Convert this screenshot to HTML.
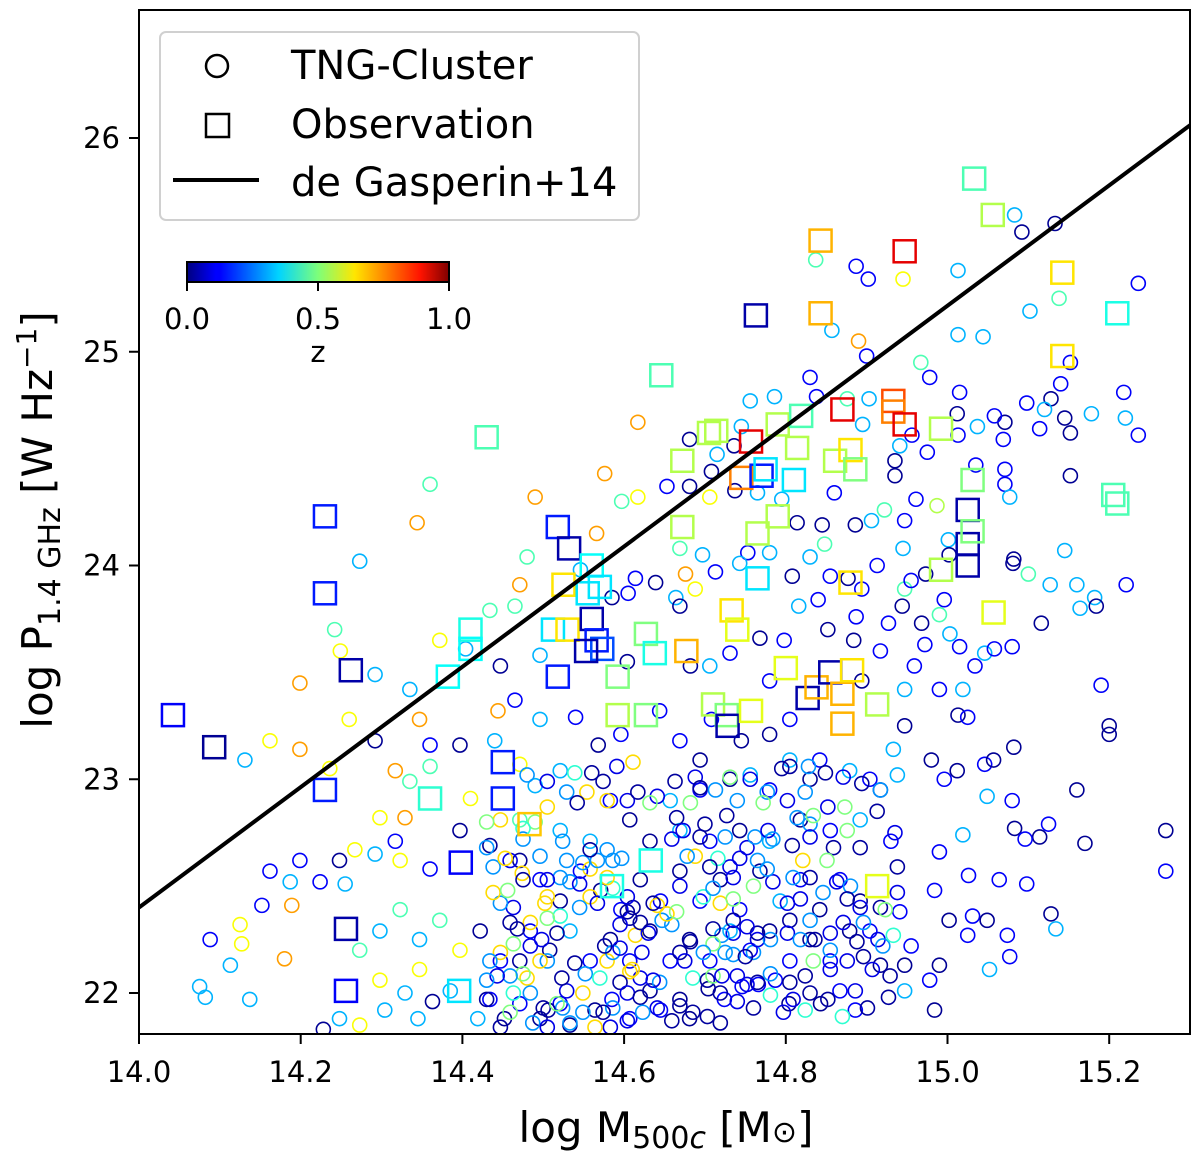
<!DOCTYPE html>
<html><head><meta charset="utf-8"><style>
html,body{margin:0;padding:0;background:#fff;}
svg{display:block;font-family:"DejaVu Sans","Liberation Sans",sans-serif;}
</style></head><body>
<svg id="chart" width="1200" height="1160" viewBox="0 0 1200 1160">
<defs><linearGradient id="jetgrad" x1="0" x2="1" y1="0" y2="0">
<stop offset="0" stop-color="#00007f"/><stop offset="0.11" stop-color="#0000ff"/><stop offset="0.125" stop-color="#0000ff"/>
<stop offset="0.35" stop-color="#00d4ff"/><stop offset="0.5" stop-color="#7dff7a"/><stop offset="0.64" stop-color="#ffe600"/>
<stop offset="0.89" stop-color="#ff1300"/><stop offset="1" stop-color="#7f0000"/></linearGradient>
<clipPath id="plotclip"><rect x="139" y="10" width="1051" height="1024"/></clipPath></defs>
<g id="sims" clip-path="url(#plotclip)"></g>
<g id="obs" clip-path="url(#plotclip)"></g>
<g id="fitg" clip-path="url(#plotclip)"></g>
<rect x="139" y="10" width="1051" height="1024" fill="none" stroke="#000" stroke-width="2"/>
<g id="xticks"></g>
<g id="yticks"></g>
<text x="666" y="1142" font-size="42" text-anchor="middle">log M<tspan font-size="30" dy="6">500<tspan font-style="italic">c</tspan></tspan><tspan dy="-6"> [M</tspan><tspan font-size="30">⊙</tspan>]</text>
<text transform="translate(52,520) rotate(-90)" font-size="42" text-anchor="middle">log P<tspan font-size="30" dy="8">1.4 GHz</tspan><tspan dy="-8"> [W Hz</tspan><tspan font-size="28" dy="-16">−1</tspan><tspan dy="16">]</tspan></text>
<g>
<rect x="160" y="32" width="479" height="188" rx="6" fill="#fff" fill-opacity="0.9" stroke="#d0d0d0" stroke-width="2"/>
<circle cx="217" cy="66" r="11" fill="none" stroke="#000" stroke-width="2.5"/>
<text x="291" y="79" font-size="40">TNG-Cluster</text>
<rect x="206" y="114" width="23" height="23" fill="none" stroke="#000" stroke-width="2.5"/>
<text x="291" y="138" font-size="40">Observation</text>
<line x1="173" y1="180" x2="259" y2="180" stroke="#000" stroke-width="4"/>
<text x="291" y="196" font-size="40">de Gasperin+14</text>
</g>
<g>
<rect x="187" y="262" width="262" height="20" fill="url(#jetgrad)" stroke="#000" stroke-width="2"/>
<line x1="187" y1="282" x2="187" y2="291" stroke="#000" stroke-width="2"/>
<line x1="318" y1="282" x2="318" y2="291" stroke="#000" stroke-width="2"/>
<line x1="449" y1="282" x2="449" y2="291" stroke="#000" stroke-width="2"/>
<text x="187" y="329" font-size="29" text-anchor="middle">0.0</text>
<text x="318" y="329" font-size="29" text-anchor="middle">0.5</text>
<text x="449" y="329" font-size="29" text-anchor="middle">1.0</text>
<text x="318" y="362" font-size="29" text-anchor="middle">z</text>
</g>
</svg>
<script>
const xTicks=[14.0,14.2,14.4,14.6,14.8,15.0,15.2];
const yTicks=[22,23,24,25,26];
const fitX=[14.0,15.3];
const fitY=[22.40,26.06];
const circleX=[15.133,15.092,15.083,15.013,15.236,15.102,14.837,14.887,14.902,14.945,14.857,14.89,14.9,15.013,15.044,15.138,15.152,15.14,15.128,15.218,15.236,15.22,15.178,15.145,15.152,15.12,15.114,15.098,15.071,15.058,15.015,15.012,14.978,14.967,15.013,15.037,15.035,15.069,15.071,15.071,15.077,15.152,15.221,15.182,15.184,15.164,15.145,15.160,15.127,15.082,15.081,15.1,15.116,15.001,14.945,14.973,14.947,14.996,14.944,14.955,14.913,14.894,14.877,14.906,14.922,14.947,14.987,15.002,14.935,14.935,14.941,14.956,14.975,14.961,14.903,14.895,14.876,14.838,14.83,14.786,14.756,14.745,14.736,14.708,14.715,14.681,14.706,14.681,14.653,14.617,14.737,14.765,14.795,14.814,14.845,14.886,14.86,14.576,14.597,14.617,14.49,14.566,14.48,14.546,14.614,14.585,14.605,14.639,14.664,14.669,14.676,14.688,14.669,14.697,14.713,14.753,14.743,14.78,14.808,14.83,14.848,14.855,14.84,14.816,14.768,14.798,14.852,14.884,14.887,14.927,14.917,14.968,14.972,14.99,15.003,15.015,15.046,15.058,15.08,15.034,15.019,15.013,15.025,14.99,14.959,14.947,14.947,14.933,14.904,14.917,14.938,14.98,14.996,15.012,15.046,15.057,15.082,15.049,15.08,15.083,15.125,15.114,15.096,15.128,15.134,15.098,15.064,15.026,15.019,14.99,14.984,15.002,15.031,15.025,15.049,15.074,15.077,15.052,14.99,14.955,14.947,14.978,14.947,14.984,14.917,14.941,14.904,14.886,14.867,14.843,14.804,14.787,14.766,14.746,14.724,14.704,14.681,14.669,14.645,14.632,14.607,14.585,14.564,14.533,14.521,14.496,14.471,14.452,14.434,14.419,14.363,14.345,14.329,14.304,14.273,14.248,14.228,14.137,14.082,14.075,14.088,14.113,14.125,14.127,14.152,14.162,14.199,14.187,14.18,14.189,14.224,14.248,14.267,14.255,14.292,14.323,14.317,14.329,14.298,14.36,14.397,14.434,14.41,14.36,14.335,14.317,14.236,14.199,14.162,14.131,14.26,14.292,14.347,14.36,14.397,14.44,14.471,14.49,14.521,14.583,14.607,14.657,14.694,14.731,14.756,14.78,14.805,14.83,14.842,14.879,14.694,14.669,14.644,14.596,14.568,14.54,14.496,14.465,14.444,14.447,14.404,14.372,14.335,14.292,14.249,14.242,14.199,14.273,14.344,14.36,14.434,14.465,14.471,14.496,14.604,14.682,14.706,14.731,14.78,14.894,14.708,14.745,14.78,14.805,14.471,14.496,14.521,14.546,14.571,14.596,14.62,14.645,14.669,14.694,14.719,14.743,14.768,14.793,14.818,14.842,14.867,14.892,14.484,14.508,14.533,14.558,14.583,14.607,14.632,14.657,14.681,14.706,14.731,14.756,14.78,14.805,14.83,14.855,14.879,14.447,14.422,14.397,14.372,14.347,14.323,14.298,14.273,14.347,14.385,14.298,14.471,14.521,14.558,14.632,14.669,14.706,14.743,14.78,14.818,14.855,14.892,14.93,15.27,15.27,15.2,15.16,15.17,15.19,15.20];
const circleY=[25.60,25.56,25.64,25.38,25.32,25.19,25.43,25.40,25.34,25.34,25.10,25.05,24.98,25.08,25.07,25.25,24.95,24.85,24.78,24.81,24.61,24.69,24.71,24.69,24.62,24.73,24.64,24.76,24.67,24.70,24.81,24.71,24.88,24.95,24.61,24.65,24.47,24.59,24.45,24.38,24.32,24.42,23.91,23.85,23.81,23.80,24.07,23.91,23.91,24.03,24.01,23.96,23.73,24.12,24.08,23.96,23.89,23.84,23.81,23.93,24.0,23.89,23.94,24.21,24.26,24.21,24.28,24.05,24.42,24.49,24.56,24.61,24.53,24.31,24.78,24.66,24.78,24.79,24.88,24.79,24.77,24.65,24.56,24.44,24.52,24.59,24.32,24.37,24.37,24.32,24.35,24.34,24.31,24.20,24.19,24.19,24.34,24.43,24.30,24.67,24.32,24.15,24.04,23.98,23.94,23.85,23.87,23.92,23.85,23.81,23.96,23.89,24.08,24.05,23.97,24.06,24.01,24.06,23.95,24.04,24.10,23.95,23.84,23.81,23.66,23.65,23.70,23.65,23.76,23.73,23.60,23.73,23.63,23.77,23.68,23.62,23.59,23.61,23.62,23.53,23.42,23.30,23.29,23.42,23.53,23.42,23.25,23.14,23.0,22.95,23.02,23.09,23.0,23.04,23.07,23.09,23.15,22.92,22.90,22.77,22.79,22.73,22.72,22.37,22.30,22.51,22.53,22.55,22.74,22.66,22.48,22.34,22.36,22.27,22.34,22.27,22.17,22.11,22.13,22.22,22.13,22.06,22.01,21.92,22.13,22.38,22.29,21.92,22.01,21.95,21.95,22.06,22.04,22.03,21.97,22.02,21.88,21.97,21.92,22.01,21.88,21.97,21.92,21.85,21.95,21.88,21.95,21.88,21.97,21.88,21.96,21.88,22.0,21.92,21.85,21.88,21.83,21.97,21.98,22.03,22.25,22.13,22.32,22.23,22.41,22.57,22.62,22.52,22.16,22.41,22.52,22.62,22.67,22.51,22.65,22.62,22.71,22.82,22.82,22.58,22.76,22.69,22.91,23.06,22.99,23.04,23.05,23.14,23.18,23.09,23.28,23.18,23.28,23.16,23.16,23.18,23.07,22.97,23.04,22.90,22.81,22.90,22.95,23.0,23.02,22.95,23.09,23.0,23.09,23.04,23.09,23.18,23.32,23.21,23.16,23.29,23.28,23.37,23.32,23.53,23.61,23.65,23.42,23.49,23.60,23.70,23.45,24.02,24.20,24.38,23.79,23.81,23.91,23.58,23.55,23.53,23.53,23.59,23.46,23.46,23.28,23.18,23.21,23.28,22.62,22.53,22.43,22.57,22.48,22.39,22.53,22.43,22.57,22.43,22.53,22.39,22.57,22.43,22.53,22.39,22.53,22.43,22.29,22.20,22.29,22.15,22.25,22.15,22.29,22.15,22.25,22.15,22.29,22.20,22.29,22.15,22.25,22.15,22.29,22.15,22.29,22.20,22.34,22.25,22.39,22.29,22.20,22.11,22.01,22.06,22.81,22.76,22.71,22.71,22.76,22.71,22.76,22.71,22.81,22.76,22.81,22.71,22.76,22.57,23.25,22.95,22.70,23.44,23.21];
const circleZ=[.02,.02,.3,.3,.12,.3,.45,.12,.12,.62,.3,.72,.12,.3,.3,.45,.12,.12,.02,.12,.12,.3,.3,.02,.02,.3,.12,.12,.02,.12,.12,.02,.12,.45,.12,.3,.12,.12,.12,.12,.3,.02,.12,.3,.02,.3,.3,.3,.3,.02,.02,.45,.02,.3,.3,.02,.45,.12,.02,.12,.12,.12,.02,.3,.45,.12,.55,.02,.02,.02,.3,.12,.12,.12,.3,.3,.45,.12,.12,.3,.3,.3,.02,.02,.3,.02,.62,.02,.12,.62,.02,.3,.3,.02,.02,.02,.12,.72,.45,.72,.72,.72,.45,.3,.12,.02,.12,.02,.3,.02,.72,.62,.45,.3,.12,.12,.3,.3,.02,.3,.45,.12,.12,.3,.02,.12,.02,.02,.12,.12,.12,.02,.12,.45,.3,.12,.3,.12,.12,.12,.3,.02,.12,.12,.12,.3,.02,.3,.12,.02,.3,.02,.12,.02,.12,.02,.02,.3,.12,.02,.12,.02,.12,.02,.3,.12,.12,.12,.3,.12,.12,.02,.12,.12,.02,.12,.12,.3,.02,.12,.02,.12,.3,.02,.02,.12,.12,.12,.12,.02,.02,.12,.12,.12,.12,.02,.02,.02,.12,.02,.12,.12,.02,.02,.12,.02,.12,.02,.12,.3,.02,.3,.3,.3,.62,.3,.02,.3,.3,.3,.12,.3,.62,.62,.12,.12,.12,.3,.72,.72,.12,.02,.62,.3,.3,.62,.12,.72,.62,.12,.02,.02,.62,.45,.45,.72,.62,.72,.62,.3,.62,.02,.72,.12,.02,.3,.62,.3,.3,.12,.02,.3,.12,.02,.3,.12,.3,.02,.12,.3,.02,.12,.12,.12,.02,.12,.3,.12,.72,.02,.3,.62,.3,.3,.62,.45,.72,.3,.72,.45,.45,.45,.72,.3,.02,.02,.3,.12,.12,.02,.12,.02,.02,.12,.02,.12,.02,.12,.02,.12,.02,.12,.02,.12,.02,.12,.02,.3,.12,.02,.12,.02,.12,.02,.3,.12,.02,.12,.02,.12,.02,.12,.3,.12,.02,.12,.02,.12,.02,.12,.02,.62,.45,.3,.45,.3,.45,.62,.3,.62,.45,.3,.3,.02,.3,.12,.02,.3,.02,.12,.3,.12,.02,.12,.02,.02,.02,.12,.02,.02,.3];
const denseX=[14.505,14.480,14.539,14.560,14.574,14.591,14.611,14.529,14.554,14.542,14.579,14.604,14.617,14.641,14.632,14.663,14.688,14.694,14.713,14.731,14.756,14.777,14.795,14.805,14.828,14.849,14.871,14.894,14.917,14.824,14.802,14.772,14.740,14.727,14.682,14.665,14.673,14.659,14.694,14.700,14.725,14.752,14.762,14.778,14.784,14.808,14.814,14.830,14.830,14.834,14.852,14.873,14.876,14.859,14.892,14.913,14.935,14.851,14.821,14.830,14.809,14.784,14.777,14.765,14.743,14.731,14.735,14.716,14.706,14.688,14.678,14.669,14.698,14.710,14.719,14.735,14.760,14.802,14.818,14.846,14.863,14.880,14.876,14.892,14.917,14.923,14.938,14.938,14.896,14.871,14.855,14.830,14.805,14.802,14.818,14.836,14.855,14.888,14.914,14.920,14.933,14.896,14.876,14.855,14.834,14.824,14.805,14.809,14.830,14.852,14.886,14.907,14.929,14.927,14.901,14.870,14.824,14.797,14.781,14.765,14.752,14.740,14.781,14.760,14.735,14.725,14.750,14.765,14.781,14.765,14.752,14.735,14.735,14.721,14.710,14.710,14.682,14.669,14.698,14.675,14.685,14.703,14.710,14.721,14.719,14.740,14.760,14.719,14.703,14.685,14.669,14.659,14.641,14.644,14.636,14.620,14.607,14.595,14.604,14.620,14.623,14.604,14.586,14.574,14.583,14.564,14.549,14.549,14.533,14.524,14.506,14.500,14.517,14.529,14.523,14.539,14.552,14.570,14.579,14.586,14.576,14.595,14.622,14.610,14.614,14.630,14.620,14.607,14.595,14.604,14.611,14.647,14.659,14.653,14.641,14.665,14.636,14.604,14.586,14.579,14.558,14.549,14.567,14.586,14.597,14.579,14.558,14.529,14.521,14.533,14.545,14.558,14.567,14.545,14.521,14.505,14.484,14.468,14.459,14.463,14.447,14.438,14.456,14.474,14.475,14.459,14.438,14.430,14.453,14.475,14.490,14.475,14.505,14.447,14.430,14.505,14.496,14.524,14.505,14.502,14.517,14.498,14.484,14.463,14.447,14.434,14.471,14.505,14.496,14.480,14.475,14.459,14.443,14.430,14.484,14.463,14.459,14.430,14.447,14.487,14.505];
const denseY=[22.99,23.02,23.03,23.03,22.99,23.06,23.08,22.94,22.94,22.89,22.90,22.90,22.94,22.92,22.89,22.99,23.01,22.96,22.95,23.01,23.00,22.94,23.05,23.06,23.06,23.03,23.01,22.98,22.95,22.94,22.90,22.89,22.90,22.83,22.89,22.82,22.76,22.72,22.73,22.79,22.73,22.68,22.73,22.76,22.72,22.69,22.82,22.79,22.73,22.83,22.87,22.87,22.76,22.68,22.68,22.85,22.75,22.62,22.62,22.54,22.54,22.52,22.58,22.62,22.63,22.59,22.54,22.63,22.59,22.64,22.64,22.50,22.45,22.49,22.42,22.44,22.50,22.42,22.44,22.47,22.52,22.50,22.44,22.40,22.40,22.39,22.47,22.59,22.33,22.33,22.28,22.34,22.34,22.28,22.25,22.25,22.20,22.24,22.25,22.22,22.27,22.17,22.15,22.11,22.15,22.08,22.05,21.97,22.00,21.97,22.01,22.11,22.08,21.98,21.93,21.89,21.92,21.91,21.99,22.05,22.04,22.08,22.09,22.19,22.18,22.19,22.17,22.25,22.25,22.28,22.31,22.34,22.28,22.27,22.30,22.23,22.24,22.19,22.19,22.15,22.07,22.06,22.08,22.08,22.00,21.96,21.93,21.86,21.89,21.91,21.94,21.87,21.93,22.05,22.06,22.07,22.10,22.05,22.00,21.98,21.91,21.87,21.93,21.91,21.84,21.84,22.00,21.91,21.86,21.93,21.92,21.93,21.95,22.01,22.07,22.14,22.09,22.07,22.15,22.19,22.22,22.21,22.19,22.11,22.27,22.28,22.33,22.35,22.32,22.38,22.40,22.34,22.32,22.37,22.41,22.38,22.42,22.45,22.49,22.54,22.58,22.61,22.62,22.62,22.63,22.67,22.67,22.62,22.54,22.52,22.51,22.45,22.42,22.40,22.36,22.35,22.33,22.30,22.33,22.40,22.42,22.47,22.48,22.56,22.53,22.62,22.59,22.68,22.63,22.72,22.80,22.77,22.87,22.81,22.80,22.53,22.64,22.71,22.45,22.42,22.28,22.25,22.22,22.23,22.19,22.15,22.15,22.15,22.15,22.07,22.09,22.08,22.08,22.06,22.00,22.00,21.91,21.97,21.84,21.86,21.84];
const denseZ=[.1,.27,.42,.03,.03,.1,.66,.27,.66,.03,.66,.1,.03,.1,.5,.03,.1,.03,.27,.5,.1,.27,.03,.03,.27,.03,.1,.03,.27,.27,.1,.5,.27,.03,.5,.03,.1,.1,.03,.03,.27,.1,.27,.1,.27,.03,.27,.27,.1,.5,.1,.5,.5,.03,.03,.03,.1,.5,.66,.03,.27,.1,.27,.27,.1,.1,.1,.42,.03,.66,.27,.1,.42,.27,.66,.5,.5,.1,.1,.27,.1,.27,.03,.1,.03,.5,.1,.03,.27,.1,.1,.27,.03,.1,.27,.03,.27,.03,.1,.27,.42,.03,.1,.1,.5,.03,.03,.1,.03,.03,.1,.1,.03,.03,.03,.42,.42,.1,.42,.03,.1,.1,.27,.27,.27,.27,.03,.1,.27,.03,.1,.03,.1,.27,.03,.5,.03,.03,.27,.1,.42,.03,.5,.1,.03,.1,.03,.03,.03,.03,.03,.03,.1,.27,.1,.1,.66,.03,.1,.03,.27,.1,.27,.03,.1,.66,.66,.27,.27,.27,.03,.03,.5,.1,.03,.03,.27,.42,.66,.27,.03,.1,.1,.66,.66,.1,.03,.03,.1,.03,.03,.27,.27,.66,.66,.5,.03,.1,.42,.66,.66,.27,.27,.27,.27,.27,.03,.27,.27,.27,.1,.66,.1,.27,.42,.5,.66,.03,.03,.1,.27,.66,.5,.66,.03,.1,.27,.27,.66,.27,.5,.42,.66,.66,.5,.1,.27,.27,.66,.66,.03,.1,.1,.5,.66,.27,.03,.27,.66,.66,.5,.27,.1,.27,.27,.42,.5,.03,.03,.27,.1];
const obsX=[14.042,14.093,14.23,14.23,14.262,14.23,14.256,14.256,14.36,14.396,14.398,14.382,14.41,14.41,14.43,14.45,14.45,14.483,14.518,14.518,14.512,14.525,14.532,14.53,14.555,14.56,14.56,14.566,14.57,14.573,14.553,14.592,14.592,14.627,14.627,14.638,14.585,14.633,14.646,14.672,14.672,14.677,14.705,14.714,14.71,14.727,14.728,14.733,14.74,14.745,14.757,14.763,14.757,14.765,14.77,14.775,14.765,14.79,14.79,14.8,14.81,14.814,14.819,14.827,14.843,14.843,14.838,14.855,14.861,14.87,14.87,14.87,14.88,14.88,14.882,14.886,14.913,14.913,14.933,14.933,14.947,14.947,14.992,14.992,15.025,15.025,15.031,15.031,15.025,15.033,15.056,15.057,15.142,15.142,15.21,15.205,15.21];
const obsY=[23.30,23.15,24.23,23.87,23.51,22.95,22.30,22.01,22.91,22.01,22.61,23.48,23.70,23.61,24.60,23.08,22.91,22.79,23.48,24.18,23.70,23.91,24.08,23.70,23.87,24.0,23.75,23.65,23.90,23.61,23.6,23.48,23.30,23.30,23.68,23.59,22.50,22.62,24.89,24.49,24.18,23.60,24.62,24.63,23.35,23.30,23.25,23.79,23.70,24.41,24.58,25.17,23.32,23.94,24.42,24.45,24.15,24.66,24.23,23.52,24.40,24.55,24.70,23.38,25.52,25.18,23.43,23.50,24.49,24.73,23.40,23.26,23.92,24.54,23.51,24.45,23.35,22.50,24.77,24.72,24.66,25.47,24.64,23.98,24.26,24.10,24.16,24.40,24.00,25.81,25.64,23.78,25.37,24.98,25.18,24.33,24.29];
const obsZ=[.12,.02,.15,.15,.04,.15,.04,.12,.42,.35,.12,.38,.4,.38,.45,.15,.15,.68,.15,.15,.35,.65,.04,.65,.35,.38,.04,.15,.35,.2,.04,.5,.55,.5,.5,.4,.4,.4,.45,.55,.55,.7,.55,.55,.55,.5,.04,.65,.6,.75,.9,.04,.6,.35,.15,.35,.55,.55,.55,.6,.35,.55,.45,.04,.7,.7,.7,.04,.55,.9,.7,.7,.65,.65,.65,.5,.55,.6,.8,.75,.9,.9,.55,.55,.04,.04,.5,.5,.04,.45,.55,.6,.65,.65,.4,.45,.45];

const NS='http://www.w3.org/2000/svg';
function sx(v){return 139+(v-14)*808.5;}
function sy(v){return 138+(26-v)*213.75;}
function clamp(v){return Math.max(0,Math.min(1,v));}
function jet(z){
  const r=clamp(1.5-Math.abs(4*z-3)),g=clamp(1.5-Math.abs(4*z-2)),b=clamp(1.5-Math.abs(4*z-1));
  return 'rgb('+Math.round(r*255)+','+Math.round(g*255)+','+Math.round(b*255)+')';
}
const sims=document.getElementById('sims');
function drawCircles(xs,ys,zs){
  for(let i=0;i<xs.length;i++){
    const c=document.createElementNS(NS,'circle');
    c.setAttribute('cx',sx(xs[i]));c.setAttribute('cy',sy(ys[i]));c.setAttribute('r',7);
    c.setAttribute('fill','none');c.setAttribute('stroke',jet(zs[i]));c.setAttribute('stroke-width',1.6);
    
    
    sims.appendChild(c);
  }
}
drawCircles(circleX,circleY,circleZ);
drawCircles(denseX,denseY,denseZ);
const obs=document.getElementById('obs');
for(let i=0;i<obsX.length;i++){
  const r=document.createElementNS(NS,'rect');
  r.setAttribute('x',sx(obsX[i])-11);r.setAttribute('y',sy(obsY[i])-11);
  r.setAttribute('width',22);r.setAttribute('height',22);
  r.setAttribute('fill','none');r.setAttribute('stroke',jet(obsZ[i]));r.setAttribute('stroke-width',2.5);
  
  
  obs.appendChild(r);
}
const fitg=document.getElementById('fitg');
const ln=document.createElementNS(NS,'line');
ln.setAttribute('x1',sx(fitX[0]));ln.setAttribute('y1',sy(fitY[0]));
ln.setAttribute('x2',sx(fitX[1]));ln.setAttribute('y2',sy(fitY[1]));
ln.setAttribute('stroke','#000');ln.setAttribute('stroke-width',4);


fitg.appendChild(ln);
const xg=document.getElementById('xticks');
xTicks.forEach(v=>{
  const t=document.createElementNS(NS,'line');
  t.setAttribute('x1',sx(v));t.setAttribute('x2',sx(v));t.setAttribute('y1',1034);t.setAttribute('y2',1044);
  t.setAttribute('stroke','#000');t.setAttribute('stroke-width',2);
  
  
  xg.appendChild(t);
  const l=document.createElementNS(NS,'text');
  l.setAttribute('x',sx(v));l.setAttribute('y',1082);l.setAttribute('font-size',29);l.setAttribute('text-anchor','middle');
  l.textContent=v.toFixed(1);
  
  
  xg.appendChild(l);
});
const yg=document.getElementById('yticks');
yTicks.forEach(v=>{
  const t=document.createElementNS(NS,'line');
  t.setAttribute('x1',129);t.setAttribute('x2',139);t.setAttribute('y1',sy(v));t.setAttribute('y2',sy(v));
  t.setAttribute('stroke','#000');t.setAttribute('stroke-width',2);
  
  
  yg.appendChild(t);
  const l=document.createElementNS(NS,'text');
  l.setAttribute('x',120);l.setAttribute('y',sy(v)+10);l.setAttribute('font-size',29);l.setAttribute('text-anchor','end');
  l.textContent=String(v);
  
  
  yg.appendChild(l);
});
</script>
</body></html>
